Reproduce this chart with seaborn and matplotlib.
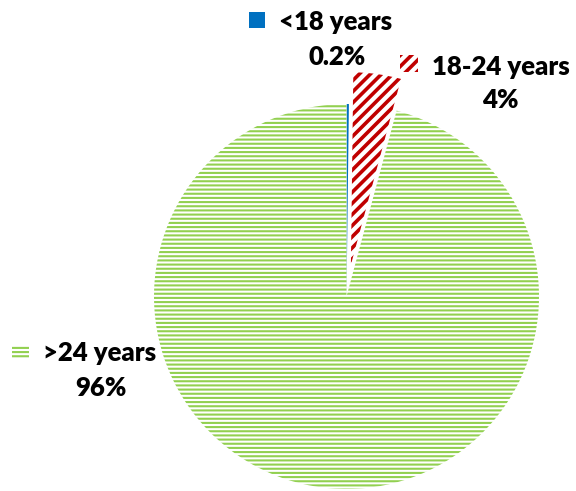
import matplotlib
matplotlib.use('Agg')
import matplotlib.pyplot as plt
import seaborn as sns
from matplotlib.patches import Rectangle

# Age groups and their share of the total (%)
groups = ['<18 years', '18-24 years', '>24 years']
shares = [0.2, 4, 96]
share_labels = ['0.2%', '4%', '96%']

sns.set_theme(style='white')
plt.rcParams['font.family'] = ['Lato', 'DejaVu Sans']
plt.rcParams['hatch.linewidth'] = 1.5

W, H = 576, 491
fig = plt.figure(figsize=(W / 100, H / 100), dpi=100)
ax = fig.add_axes([0, 0, 1, 1])

colors = ['#0070C0', '#C00000', '#92D050']
hatches = [None, '///', '----']
hatch_lw = [None, 2.6, 1.5]

# pie is laid out in pixel units: explode offset is absolute, not relative
wedges, _ = ax.pie(
    shares, explode=[0, 32, 0], startangle=90, counterclock=False,
    center=(346.5, H - 296.5), radius=192.5, colors=colors,
    wedgeprops=dict(linewidth=0))
for w, c, h, lw in zip(wedges, colors, hatches, hatch_lw):
    if h is None:
        continue
    w.set_facecolor('white')
    w.set_edgecolor(c)
    w.set_linewidth(0)
    w.set_hatch(h)
    if hasattr(w, 'set_hatch_linewidth'):
        w.set_hatch_linewidth(lw)
ax.set_xlim(0, W)
ax.set_ylim(0, H)
ax.set_aspect('equal')
ax.axis('off')

# Data labels: (name centre, value centre, legend key box) in pixel layout
label_pos = [((336, 22), (337, 57), (249, 12, 16, 16)),
             ((501, 67), (500, 100), (400, 55, 18, 17)),
             ((100, 353), (101, 388), (12, 345, 17, 14))]
for name, val, c, h, lw, (p1, p2, box) in zip(
        groups, share_labels, colors, hatches, hatch_lw, label_pos):
    ax.text(p1[0], H - p1[1], name, ha='center', va='center',
            fontsize=18.5, fontweight='heavy', color='black')
    ax.text(p2[0], H - p2[1], val, ha='center', va='center',
            fontsize=18.5, fontweight='heavy', color='black')
    bx, by, bw, bh = box
    if h is None:
        key = Rectangle((bx, H - by - bh), bw, bh, facecolor=c, linewidth=0)
    else:
        key = Rectangle((bx, H - by - bh), bw, bh, facecolor='white',
                        edgecolor=c, linewidth=0, hatch=h)
        if hasattr(key, 'set_hatch_linewidth'):
            key.set_hatch_linewidth(lw)
    ax.add_patch(key)

fig.savefig('out.png', dpi=100)
